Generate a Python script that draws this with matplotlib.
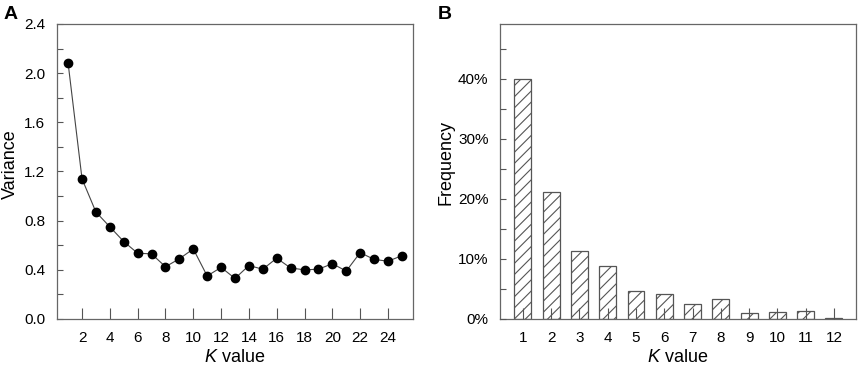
import matplotlib
matplotlib.use("Agg")
import matplotlib.pyplot as plt
from matplotlib.ticker import MultipleLocator, FuncFormatter

plt.rcParams['font.family'] = ['Liberation Sans', 'DejaVu Sans']
plt.rcParams['mathtext.fontset'] = 'custom'
plt.rcParams['mathtext.it'] = 'Liberation Sans:italic'
plt.rcParams['mathtext.rm'] = 'Liberation Sans'
plt.rcParams['hatch.color'] = '#555555'
plt.rcParams['hatch.linewidth'] = 0.8

# Panel A data
k_values_a = list(range(1, 26))
variance = [2.08, 1.14, 0.87, 0.75, 0.63, 0.535, 0.53, 0.425, 0.49, 0.57,
            0.35, 0.42, 0.33, 0.435, 0.405, 0.495, 0.415, 0.40, 0.405, 0.45,
            0.39, 0.54, 0.485, 0.47, 0.515]
xticks_a = list(range(2, 26, 2))

# Panel B data
k_values_b = list(range(1, 13))
frequency = [40.0, 21.1, 11.4, 8.9, 4.6, 4.2, 2.5, 3.3, 1.0, 1.2, 1.3, 0.1]

W, H = 858, 366
fig = plt.figure(figsize=(W / 100, H / 100), dpi=100)

spine_c = '#666666'
tick_c = '#555555'

def style(ax):
    for s in ax.spines.values():
        s.set_color(spine_c)
        s.set_linewidth(0.9)
    ax.tick_params(axis='both', which='both', direction='in', colors=tick_c,
                   labelcolor='black', labelsize=11, width=0.8)
    ax.tick_params(axis='x', which='major', length=8, pad=9)
    ax.tick_params(axis='y', which='both', length=4, pad=8.5)
    ax.tick_params(top=False, right=False)

# Panel A
axA = fig.add_axes([57 / W, 1 - 319 / H, (413 - 57) / W, (319 - 24) / H])
axA.plot(k_values_a, variance, color='#444444', lw=0.8, marker='o',
         markersize=6, markerfacecolor='black', markeredgecolor='black', zorder=3)
axA.set_xlim(0.2, 25.8)
axA.set_ylim(0, 2.4)
axA.set_xticks(xticks_a)
axA.yaxis.set_major_locator(MultipleLocator(0.4))
axA.yaxis.set_minor_locator(MultipleLocator(0.2))
axA.yaxis.set_major_formatter(FuncFormatter(lambda v, p: f"{v:.1f}"))
style(axA)
axA.set_ylabel('Variance', fontsize=13)
axA.yaxis.set_label_coords(-0.107, 0.525)
axA.set_xlabel('$K$ value', fontsize=13)
axA.xaxis.set_label_coords(0.5, -0.1)
fig.text(4 / W, 1 - 19 / H, 'A', fontsize=14, fontweight='bold', ha='left', va='baseline')

# Panel B
axB = fig.add_axes([500.3 / W, 1 - 319 / H, (855.7 - 500.3) / W, (319 - 24) / H])
axB.bar(k_values_b, frequency, width=0.6, color='white', edgecolor='#555555',
        linewidth=0.9, hatch='///', zorder=2)
axB.set_xlim(0.2, 12.77)
axB.set_ylim(0, 49.1)
axB.set_xticks(k_values_b)
axB.yaxis.set_major_locator(MultipleLocator(10))
axB.yaxis.set_minor_locator(MultipleLocator(5))
axB.yaxis.set_major_formatter(FuncFormatter(lambda v, p: f"{v:.0f}%"))
style(axB)
axB.set_axisbelow(False)
axB.set_ylabel('Frequency', fontsize=13)
axB.yaxis.set_label_coords(-0.13, 0.53)
axB.set_xlabel('$K$ value', fontsize=13)
axB.xaxis.set_label_coords(0.5, -0.1)
fig.text(438 / W, 1 - 19 / H, 'B', fontsize=14, fontweight='bold', ha='left', va='baseline')

fig.savefig('out.png', dpi=100)
